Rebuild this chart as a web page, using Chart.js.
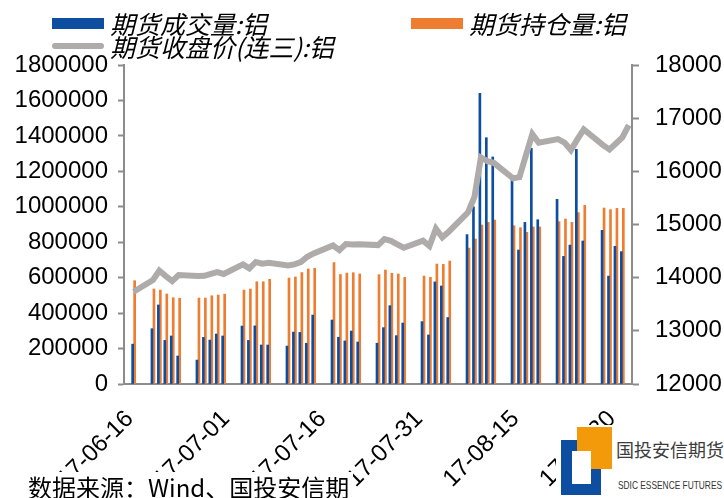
<!DOCTYPE html>
<html>
<head>
<meta charset="utf-8">
<script src="https://cdn.jsdelivr.net/npm/chart.js@4.4.0/dist/chart.umd.min.js"></script>
<style>
  html, body { margin: 0; padding: 0; background: #fff; }
  #wrap { position: relative; width: 724px; height: 498px; overflow: hidden; }
  #chart { position: absolute; left: 0; top: 0; }
  .legend-item { position: absolute; font-family: "Noto Sans CJK SC", sans-serif; font-style: italic;
    font-size: 25px; line-height: 28px; color: #000; white-space: nowrap; }
  .legend-item .mark { position: absolute; }
  .legend-item .text { position: absolute; left: 58px; top: 0; }
  #source { position: absolute; left: 28px; top: 472px; padding-right: 4px; background: #fff;
    font-family: "Noto Sans CJK SC", sans-serif; font-size: 24px; line-height: 30px; color: #000; }
  #logo { position: absolute; left: 556px; top: 425px; width: 168px; height: 73px; background: #fff; }
  #logo div { position: absolute; }
</style>
</head>
<body>
<div id="wrap">
  <canvas id="chart" width="724" height="498"></canvas>
  <div id="legend"></div>
  <div id="source">数据来源：Wind、国投安信期</div>
  <div id="logo">
    <div style="left:5px;top:15px;width:40px;height:55px;background:#0d4ea0"></div>
    <div style="left:21px;top:2px;width:35px;height:42px;background:#f39a0b"></div>
    <div style="left:16px;top:26px;width:19px;height:33px;background:#fff"></div>
    <div style="left:60px;top:13px;font:18px/22px 'Noto Sans CJK SC',sans-serif;color:#3c3c3c;white-space:nowrap">国投安信期货</div>
    <div style="left:62px;top:54px;font:11px 'Liberation Sans',sans-serif;color:#333;white-space:nowrap;transform:scaleX(0.76);transform-origin:left top">SDIC ESSENCE FUTURES</div>
  </div>
</div>
<script>
// trading days shown in the chart
const tradeDates = [
  "2017-06-16",
  "2017-06-19", "2017-06-20", "2017-06-21", "2017-06-22", "2017-06-23",
  "2017-06-26", "2017-06-27", "2017-06-28", "2017-06-29", "2017-06-30",
  "2017-07-03", "2017-07-04", "2017-07-05", "2017-07-06", "2017-07-07",
  "2017-07-10", "2017-07-11", "2017-07-12", "2017-07-13", "2017-07-14",
  "2017-07-17", "2017-07-18", "2017-07-19", "2017-07-20", "2017-07-21",
  "2017-07-24", "2017-07-25", "2017-07-26", "2017-07-27", "2017-07-28",
  "2017-07-31", "2017-08-01", "2017-08-02", "2017-08-03", "2017-08-04",
  "2017-08-07", "2017-08-08", "2017-08-09", "2017-08-10", "2017-08-11",
  "2017-08-14", "2017-08-15", "2017-08-16", "2017-08-17", "2017-08-18",
  "2017-08-21", "2017-08-22", "2017-08-23", "2017-08-24", "2017-08-25",
  "2017-08-28", "2017-08-29", "2017-08-30", "2017-08-31", "2017-09-01"
];

// 期货成交量:铝
const volume = [
  225000,
  312000, 446000, 246000, 271000, 158000,
  135000, 263000, 248000, 282000, 271000,
  327000, 246000, 328000, 220000, 220000,
  214000, 293000, 291000, 230000, 389000,
  361000, 264000, 243000, 299000, 237000,
  230000, 318000, 442000, 273000, 344000,
  352000, 277000, 576000, 553000, 375000,
  843000, 1000000, 1640000, 1390000, 1281000,
  1160000, 756000, 912000, 1330000, 927000,
  1042000, 720000, 784000, 1324000, 807000,
  867000, 609000, 777000, 747000, null
];

// 期货持仓量:铝
const openInterest = [
  583000,
  536000, 530000, 508000, 487000, 484000,
  485000, 485000, 498000, 502000, 507000,
  530000, 536000, 577000, 577000, 591000,
  598000, 604000, 629000, 649000, 653000,
  685000, 618000, 626000, 628000, 621000,
  617000, 643000, 625000, 621000, 602000,
  609000, 602000, 677000, 675000, 694000,
  767000, 818000, 897000, 912000, 925000,
  893000, 882000, 856000, 886000, 886000,
  916000, 931000, 912000, 967000, 1008000,
  993000, 984000, 991000, 991000, null
];

// 期货收盘价(连三):铝
const closePrice = [
  13735,
  13955, 14130, 14030, 13936, 14050,
  14030, 14035, 14070, 14105, 14070,
  14250, 14175, 14295, 14262, 14280,
  14230, 14250, 14294, 14393, 14457,
  14607, 14519, 14632, 14625, 14630,
  14613, 14726, 14694, 14626, 14563,
  14694, 14594, 14920, 14758, 14864,
  15230, 15521, 16262, 16192, 16160,
  15870, 15890, 16300, 16700, 16537,
  16605, 16540, 16400, 16600, 16788,
  16493, 16412, 16524, 16638, 16870
];

const axisStart = "2017-06-15";
const axisEnd = "2017-09-01";
const tickLabels = ["17-06-16", "17-07-01", "17-07-16", "17-07-31", "17-08-15", "17-08-30"];
const leftTicks = [0, 1800000, 200000];   // min, max, step
const rightTicks = [12000, 18000, 1000];

const colors = { volume: "#0d4ea0", oi: "#ee7d31", price: "#afabab", axis: "#8c8c8c" };

// calendar axis: every day, empty on non-trading days
const days = [];
for (let d = new Date(axisStart + "T00:00:00Z"); d <= new Date(axisEnd + "T00:00:00Z"); d.setUTCDate(d.getUTCDate() + 1)) {
  days.push(d.toISOString().slice(0, 10));
}
function onCalendar(values) {
  return days.map(day => {
    const i = tradeDates.indexOf(day);
    return i < 0 ? null : values[i];
  });
}

const tickFont = { family: "'Liberation Sans', Arial, sans-serif", size: 24 };

const chart = new Chart(document.getElementById("chart"), {
  data: {
    labels: days,
    datasets: [
      { type: "line", label: "期货收盘价(连三):铝", data: onCalendar(closePrice), yAxisID: "y1",
        borderColor: colors.price, backgroundColor: colors.price, borderWidth: 6, pointRadius: 0,
        tension: 0, spanGaps: true, order: 0 },
      { type: "bar", label: "期货成交量:铝", data: onCalendar(volume), yAxisID: "y",
        backgroundColor: colors.volume, barThickness: 2, order: 1 },
      { type: "bar", label: "期货持仓量:铝", data: onCalendar(openInterest), yAxisID: "y",
        backgroundColor: colors.oi, barThickness: 2, order: 2 }
    ]
  },
  options: {
    responsive: false,
    animation: false,
    devicePixelRatio: 1,
    layout: { padding: { top: 65, left: 0, right: 0, bottom: 0 } },
    plugins: { legend: { display: false }, tooltip: { enabled: false } },
    scales: {
      x: {
        type: "category",
        offset: true,
        grid: { display: false },
        border: { display: true, color: colors.axis, width: 2 },
        afterFit: s => { s.height = 114; },
        ticks: {
          autoSkip: false, minRotation: 45, maxRotation: 45, padding: 13, labelOffset: -4,
          color: "#000", font: tickFont,
          callback: function (val) {
            const lab = this.getLabelForValue(val).slice(2);
            return tickLabels.includes(lab) ? lab : "";
          }
        }
      },
      y: {
        position: "left",
        min: leftTicks[0], max: leftTicks[1],
        afterFit: s => { s.width = 124; },
        grid: { display: true, drawOnChartArea: false, tickLength: 6, tickColor: colors.axis, tickWidth: 2 },
        border: { display: true, color: colors.axis, width: 2 },
        ticks: { stepSize: leftTicks[2], padding: 10, color: "#000", font: tickFont, callback: v => String(v) }
      },
      y1: {
        position: "right",
        min: rightTicks[0], max: rightTicks[1],
        afterFit: s => { s.width = 92; },
        grid: { display: true, drawOnChartArea: false, tickLength: 7, tickColor: colors.axis, tickWidth: 2 },
        border: { display: true, color: colors.axis, width: 2 },
        ticks: { stepSize: rightTicks[2], padding: 16, color: "#000", font: tickFont, callback: v => String(v) }
      }
    }
  }
});

// legend: two items on the first row, the price line below
const legendPos = [
  { left: 52, top: 9 },    // volume
  { left: 411, top: 9 },   // open interest
  { left: 52, top: 32 }    // price
];
const legendEl = document.getElementById("legend");
[1, 2, 0].forEach((dsIndex, k) => {
  const ds = chart.data.datasets[dsIndex];
  const item = document.createElement("div");
  item.className = "legend-item";
  item.style.left = legendPos[k].left + "px";
  item.style.top = legendPos[k].top + "px";
  const mark = document.createElement("div");
  mark.className = "mark";
  if (ds.type === "line") {
    Object.assign(mark.style, { left: "0px", top: "11px", width: "52px", height: "6px", borderRadius: "3px", background: ds.borderColor });
  } else {
    Object.assign(mark.style, { left: "0px", top: "9px", width: "52px", height: "11px", background: ds.backgroundColor });
  }
  const text = document.createElement("div");
  text.className = "text";
  text.textContent = ds.label;
  item.appendChild(mark);
  item.appendChild(text);
  legendEl.appendChild(item);
});
</script>
</body>
</html>
